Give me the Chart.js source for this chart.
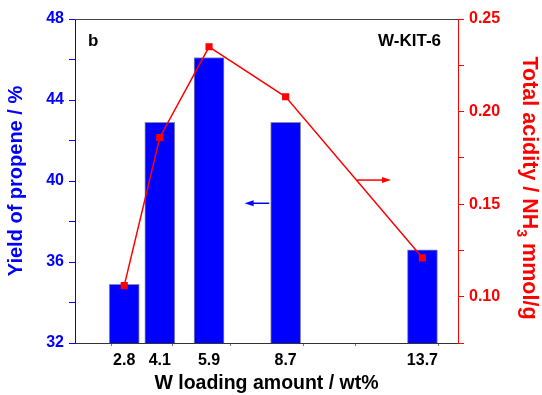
<!DOCTYPE html>
<html>
<head>
<meta charset="utf-8">
<script src="https://cdn.jsdelivr.net/npm/chart.js@4.4.0/dist/chart.umd.min.js"></script>
<style>
  body { margin: 0; background: #fff; }
  #wrap { width: 542px; height: 395px; }
</style>
</head>
<body>
<div id="wrap"><canvas id="yieldChart" width="542" height="395"></canvas></div>
<script>
// W loading (wt%) and the two measured series
const loadings = [2.8, 4.1, 5.9, 8.7, 13.7];
const propeneYield = [34.9, 42.9, 46.1, 42.9, 36.6];
const totalAcidity = [0.106, 0.186, 0.235, 0.208, 0.121];
const minorXTicks = [2.5, 5, 7.5, 10, 12.5];

const FONT = "'Liberation Sans', Arial, sans-serif";
const BLUE = '#0000ff';
const RED = '#ff0000';

// axis titles, panel labels, arrows and top frame line
const extrasPlugin = {
    id: 'extras',
    afterDraw(chart) {
        const ctx = chart.ctx;
        const area = chart.chartArea;
        const x = chart.scales.x, y = chart.scales.y, y1 = chart.scales.y1;
        ctx.save();

        // top frame line
        ctx.strokeStyle = '#444';
        ctx.lineWidth = 1;
        ctx.beginPath();
        ctx.moveTo(area.left, area.top + 0.5);
        ctx.lineTo(area.right, area.top + 0.5);
        ctx.stroke();

        // panel labels
        ctx.fillStyle = '#000';
        ctx.font = 'bold 17px ' + FONT;
        ctx.textBaseline = 'middle';
        ctx.textAlign = 'left';
        ctx.fillText('b', area.left + 13, area.top + 22);
        ctx.font = 'bold 17px ' + FONT;
        ctx.textAlign = 'right';
        ctx.fillText('W-KIT-6', area.right - 17, area.top + 22);

        // x title
        ctx.font = 'bold 19.5px ' + FONT;
        ctx.textAlign = 'center';
        ctx.fillText('W loading amount / wt%', (area.left + area.right) / 2, 384);

        // left title
        ctx.save();
        ctx.translate(16, 181);
        ctx.rotate(-Math.PI / 2);
        ctx.fillStyle = BLUE;
        ctx.font = 'bold 20px ' + FONT;
        ctx.fillText('Yield of propene / %', 0, 0);
        ctx.restore();

        // right title with subscript
        ctx.save();
        ctx.translate(529, 188);
        ctx.rotate(Math.PI / 2);
        ctx.fillStyle = RED;
        const partA = 'Total acidity / NH';
        const partB = '3';
        const partC = ' mmol/g';
        ctx.font = 'bold 21.5px ' + FONT;
        const wA = ctx.measureText(partA).width;
        const wC = ctx.measureText(partC).width;
        ctx.font = 'bold 14px ' + FONT;
        const wB = ctx.measureText(partB).width;
        const start = -(wA + wB + wC) / 2;
        ctx.textAlign = 'left';
        ctx.font = 'bold 21.5px ' + FONT;
        ctx.fillText(partA, start, 0);
        ctx.font = 'bold 14px ' + FONT;
        ctx.fillText(partB, start + wA, 8);
        ctx.font = 'bold 21.5px ' + FONT;
        ctx.fillText(partC, start + wA + wB, 0);
        ctx.restore();

        // arrows pointing to the axes
        function arrow(x0, x1, py, color) {
            ctx.strokeStyle = color;
            ctx.fillStyle = color;
            ctx.lineWidth = 1.5;
            const dir = Math.sign(x1 - x0);
            ctx.beginPath();
            ctx.moveTo(x0, py);
            ctx.lineTo(x1 - dir * 7, py);
            ctx.stroke();
            ctx.beginPath();
            ctx.moveTo(x1, py);
            ctx.lineTo(x1 - dir * 9, py - 3);
            ctx.lineTo(x1 - dir * 9, py + 3);
            ctx.closePath();
            ctx.fill();
        }
        arrow(x.getPixelForValue(8.1), x.getPixelForValue(7.2), y.getPixelForValue(38.9), BLUE);
        arrow(x.getPixelForValue(11.3), x.getPixelForValue(12.55), y1.getPixelForValue(0.163), RED);

        ctx.restore();
    }
};

const ctx = document.getElementById('yieldChart').getContext('2d');

new Chart(ctx, {
    type: 'bar',
    data: {
        datasets: [
            {
                type: 'line',
                label: 'Total acidity',
                data: loadings.map((v, i) => ({ x: v, y: totalAcidity[i] })),
                yAxisID: 'y1',
                borderColor: RED,
                backgroundColor: RED,
                borderWidth: 1.5,
                pointStyle: 'rect',
                pointRadius: 4,
                tension: 0,
                order: 0
            },
            {
                type: 'bar',
                label: 'Yield of propene',
                data: loadings.map((v, i) => ({ x: v, y: propeneYield[i] })),
                yAxisID: 'y',
                backgroundColor: BLUE,
                borderColor: '#8888aa',
                borderWidth: 1,
                barThickness: 30,
                order: 1
            }
        ]
    },
    options: {
        responsive: false,
        animation: false,
        layout: { padding: { top: 19, left: 0, right: 0, bottom: 0 } },
        plugins: {
            legend: { display: false },
            tooltip: { enabled: false }
        },
        scales: {
            x: {
                type: 'linear',
                min: 1,
                max: 15,
                offset: false,
                afterBuildTicks: scale => {
                    scale.ticks = [...loadings, ...minorXTicks]
                        .sort((a, b) => a - b)
                        .map(v => ({ value: v }));
                },
                afterFit: scale => { scale.height = 52; },
                border: { color: '#333', width: 1 },
                grid: {
                    drawOnChartArea: false,
                    tickLength: 3,
                    tickColor: c => (c.tick && loadings.includes(c.tick.value)) ? 'rgba(0,0,0,0)' : '#777'
                },
                ticks: {
                    autoSkip: false,
                    maxRotation: 0,
                    padding: 5,
                    color: '#000',
                    font: { family: FONT, size: 16, weight: 'bold' },
                    callback: v => loadings.includes(v) ? String(v) : ''
                }
            },
            y: {
                position: 'left',
                min: 32,
                max: 48,
                afterFit: scale => { scale.width = 75; },
                border: { color: BLUE, width: 1 },
                grid: { drawOnChartArea: false, tickLength: 6, tickColor: BLUE },
                ticks: {
                    stepSize: 2,
                    padding: 5,
                    color: BLUE,
                    font: { family: FONT, size: 16, weight: 'bold' },
                    callback: v => (v % 4 === 0) ? String(v) : ''
                }
            },
            y1: {
                position: 'right',
                min: 0.075,
                max: 0.25,
                afterFit: scale => { scale.width = 84; },
                border: { color: RED, width: 1 },
                grid: { drawOnChartArea: false, tickLength: 6, tickColor: RED },
                ticks: {
                    stepSize: 0.025,
                    padding: 5,
                    color: RED,
                    font: { family: FONT, size: 16, weight: 'bold' },
                    callback: v => {
                        const r = v / 0.05;
                        return Math.abs(r - Math.round(r)) < 1e-6 ? v.toFixed(2) : '';
                    }
                }
            }
        }
    },
    plugins: [extrasPlugin]
});
</script>
</body>
</html>
